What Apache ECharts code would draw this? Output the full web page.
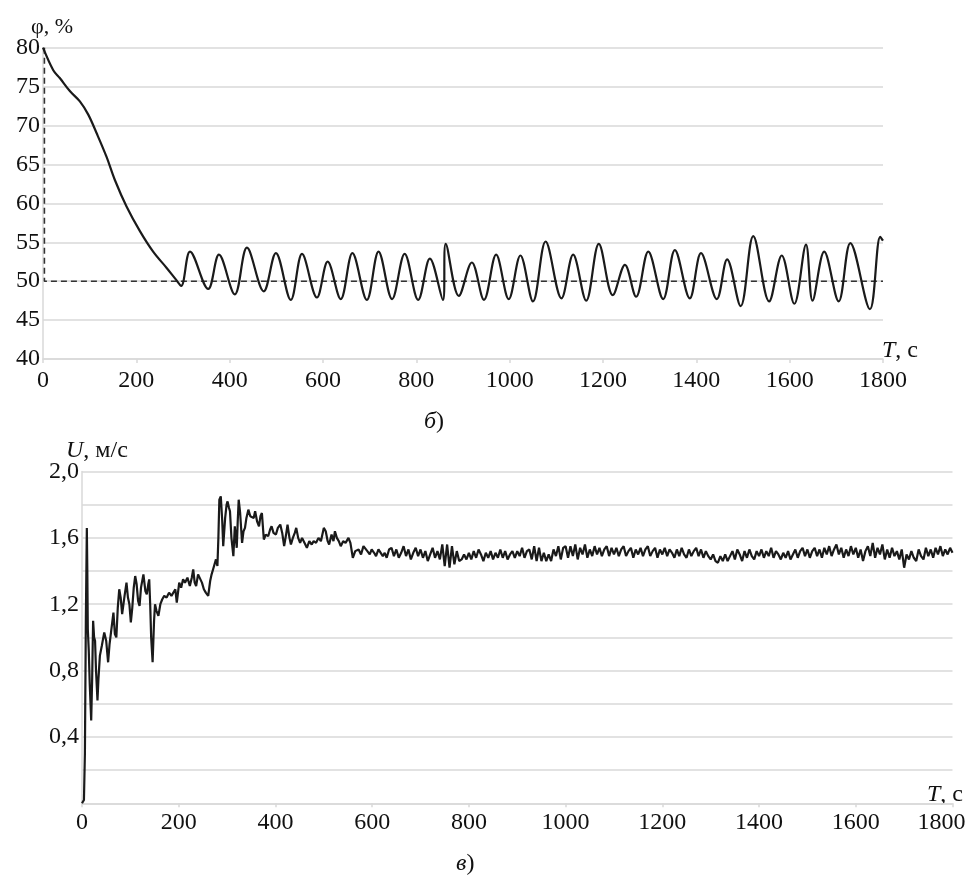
<!DOCTYPE html>
<html>
<head>
<meta charset="utf-8">
<script src="https://cdn.jsdelivr.net/npm/echarts@6/dist/echarts.min.js"></script>
<style>
html,body{margin:0;padding:0;background:#fff;}
#chart{width:968px;height:876px;}
</style>
</head>
<body>
<div id="chart"></div>
<script>
// ---------- Top chart (φ, %) ----------
const phiTime = [0,22,36,58,79,97,115,136,154,179,208,236,265,285,296,
  315,354,377,411,437,473,499,531,555,587,610,638,663,694,719,748,775,804,829,857,863,891,
  919,945,971,998,1023,1050,1077,1111,1136,1164,1191,1221,1247,1271,1297,1329,1354,1386,
  1410,1444,1466,1495,1522,1556,1583,1610,1635,1649,1674,1705,1730,1772,1794,1800];
const phiValue = [80,77.1,76.1,74.4,73.1,71.4,69.0,66.0,63.0,59.6,56.4,53.8,51.7,50.2,49.4,
  53.8,49.0,53.4,48.3,54.3,48.7,53.6,47.6,53.5,47.9,52.5,47.7,53.6,47.6,53.8,47.7,53.5,47.6,52.9,47.6,54.8,48.1,
  52.4,47.6,53.4,47.7,53.3,47.4,55.1,47.8,53.4,47.5,54.8,48.2,52.1,48.0,53.8,47.7,54.0,47.8,
  53.6,47.7,52.8,46.8,55.8,47.4,53.3,47.1,54.7,47.5,53.8,47.4,54.9,46.4,55.7,55.2];
// setpoint guide (dashed)
const guideTime = [3,3,1800];
const guideValue = [80,50,50];
const phiTicks = {min:40, max:80, step:5};
const timeTicks = {min:0, max:1800, step:200};

// ---------- Bottom chart (U, м/с) ----------
const uTimeEarly = [0,4,6,8,10,11,12,14,16,19,21,23,25,27,29,32,34,37,41,46,50,54,57,60,65,68,71,74,77,80,83,88,92,95,98,101,104,107,110,113,116,119,122,127,131,134,137,139,141,143,146,149,151,154,158,162,166,170,175,180,185,189,193,196,201,205,209,213,218,223,227,230,233,236,240,244,248,252,256,261,265,268,272,277,280,282,284,287,290,292,296,299,301,304,306,309,313,316,318,320,322,324,327,331,334,337,340,344,348,351,355,358,362,366,369,372,376,380,385,389,392,396,401,405,410,414,418,422,425,429,432,436,440,443,447,451,455,460,465,470,475,479,484,489,494,500,504,508,511,516,520,523,527,531,535,540,545,551,555,560,565,569,572,577,582,586,590,595,599,604,608,613,617,622,626,630,635];
const uValueEarly = [0,0.02,0.30,1.12,1.66,1.40,1.05,0.92,0.72,0.50,0.75,1.10,1.00,0.98,0.80,0.62,0.75,0.89,0.95,1.03,0.98,0.85,0.96,0.97,1.15,1.02,1.00,1.18,1.29,1.24,1.14,1.25,1.33,1.24,1.20,1.09,1.18,1.30,1.37,1.32,1.22,1.19,1.30,1.38,1.28,1.26,1.32,1.35,1.20,1.00,0.85,1.10,1.20,1.16,1.13,1.20,1.23,1.25,1.24,1.27,1.25,1.26,1.29,1.21,1.33,1.30,1.35,1.33,1.36,1.31,1.36,1.41,1.33,1.31,1.38,1.37,1.33,1.29,1.27,1.25,1.34,1.38,1.42,1.47,1.43,1.60,1.83,1.85,1.70,1.55,1.72,1.80,1.82,1.78,1.76,1.60,1.49,1.67,1.60,1.54,1.70,1.83,1.75,1.57,1.64,1.66,1.72,1.77,1.73,1.74,1.72,1.76,1.70,1.67,1.73,1.75,1.59,1.62,1.61,1.65,1.67,1.63,1.62,1.66,1.68,1.63,1.55,1.62,1.68,1.60,1.56,1.60,1.63,1.66,1.60,1.57,1.60,1.57,1.54,1.58,1.56,1.58,1.57,1.60,1.58,1.66,1.64,1.58,1.56,1.62,1.58,1.64,1.60,1.58,1.55,1.58,1.57,1.60,1.57,1.48,1.52,1.53,1.53,1.50,1.55,1.56,1.52,1.50,1.53,1.51,1.49,1.53,1.52,1.49,1.51,1.48,1.53];
const uTailStart = 640;
const uTailStep = 5;
const uTailValues = [
  1.54,1.49,1.53,1.48,1.51,1.55,1.49,1.53,1.47,1.51,1.54,1.49,
  1.53,1.48,1.52,1.46,1.50,1.54,1.48,1.52,
  1.47,1.56,1.43,1.56,1.42,1.55,1.44,1.52,
  1.46,1.47,1.50,1.47,
  1.51,1.47,1.52,1.48,1.53,1.50,1.46,1.51,1.48,1.52,1.47,1.51,1.48,1.53,1.48,1.52,1.47,1.50,1.52,1.48,
  1.52,1.49,1.54,1.48,1.52,1.53,1.47,1.55,1.46,1.54,1.46,1.51,1.46,1.50,1.46,1.53,1.49,1.55,1.47,1.54,
  1.55,1.48,1.55,1.49,1.56,1.47,1.54,1.50,1.56,1.48,1.53,1.49,1.55,1.50,1.54,1.49,1.53,1.55,1.49,1.54,
  1.50,1.54,1.49,1.53,1.55,1.49,1.52,1.54,1.48,1.53,1.50,1.54,1.49,1.53,1.55,1.49,1.52,1.54,1.48,1.53,
  1.50,1.54,1.49,1.53,1.51,1.48,1.53,1.49,1.54,1.50,1.48,1.53,1.49,1.52,1.54,1.49,1.53,1.48,1.52,1.49,
  1.47,1.50,1.46,1.45,1.49,1.46,1.50,1.46,1.49,1.52,1.47,1.53,1.50,1.46,1.52,1.48,1.53,1.49,1.47,1.52,
  1.49,1.53,1.48,1.52,1.49,1.54,1.48,1.52,1.50,1.47,1.51,1.48,1.52,1.47,1.50,1.53,1.48,1.52,1.54,1.49,
  1.53,1.48,1.52,1.54,1.49,1.53,1.48,1.54,1.50,1.55,1.49,1.53,1.56,1.50,1.54,1.48,1.53,1.49,1.55,1.50,
  1.54,1.48,1.53,1.46,1.52,1.55,1.49,1.57,1.48,1.54,1.50,1.56,1.47,1.53,1.48,1.54,1.49,1.52,1.47,1.53,
  1.42,1.50,1.47,1.52,1.48,1.46,1.53,1.49,1.47,1.54,1.49,1.53,1.48,1.54,1.50,1.55,1.49,1.53,1.50,1.54,1.51];
const uTicks = {min:0, max:2, step:0.2, labelEvery:0.4};

// ---------- build ----------
const FONT = '"Liberation Serif","Times New Roman",serif';
const FS = 24;
const phiData = phiTime.map((t,i)=>[t,phiValue[i]]);
const guideData = guideTime.map((t,i)=>[t,guideValue[i]]);
const uData = uTimeEarly.map((t,i)=>[t,uValueEarly[i]])
  .concat(uTailValues.map((v,i)=>[uTailStart+uTailStep*i, v]));

const gridColor = '#d9d9d9';
function xAxisCfg(gridIndex, margin, lastPad){
  return {
    type:'value', gridIndex, min:timeTicks.min, max:timeTicks.max, interval:timeTicks.step,
    axisLine:{show:true, lineStyle:{color:gridColor, width:1.5}},
    axisTick:{show:true, length:4, lineStyle:{color:gridColor, width:1.5}},
    splitLine:{show:false},
    axisLabel:{show:true, showMinLabel:true, showMaxLabel:true, hideOverlap:false,
      margin, fontFamily:FONT, fontSize:FS, color:'#111',
      formatter: v => v===timeTicks.max && lastPad ? '{p|'+v+'}' : String(v),
      rich:{p:{fontFamily:FONT, fontSize:FS, color:'#111', padding:[0,lastPad,0,0]}}}
  };
}
const rich = {i:{fontStyle:'italic', fontFamily:FONT, fontSize:FS}};

const option = {
  animation:false,
  backgroundColor:'#fff',
  grid:[
    {left:43, top:47.7, width:840, height:311.3, containLabel:false, outerBoundsMode:'none'},
    {left:82, top:471.5, width:870.5, height:331.8, containLabel:false, outerBoundsMode:'none'}
  ],
  xAxis:[ xAxisCfg(0, 10, 0), xAxisCfg(1, 7, 22) ],
  yAxis:[
    {type:'value', gridIndex:0, min:phiTicks.min, max:phiTicks.max, interval:phiTicks.step,
     axisLine:{show:true, lineStyle:{color:gridColor, width:1.5}},
     axisTick:{show:false},
     splitLine:{show:true, lineStyle:{color:gridColor, width:1.5}},
     axisLabel:{showMinLabel:true, showMaxLabel:true, margin:3, fontFamily:FONT, fontSize:FS, color:'#111'}},
    {type:'value', gridIndex:1, min:uTicks.min, max:uTicks.max, interval:uTicks.step,
     axisLine:{show:true, lineStyle:{color:gridColor, width:1.5}},
     axisTick:{show:false},
     splitLine:{show:true, lineStyle:{color:gridColor, width:1.5}},
     axisLabel:{showMinLabel:true, showMaxLabel:true, margin:3, fontFamily:FONT, fontSize:FS, color:'#111',
       formatter: v => {
         const k = Math.round(v*10);
         return (k>0 && k % Math.round(uTicks.labelEvery*10) === 0) ? v.toFixed(1).replace('.',',') : '';
       }}}
  ],
  series:[
    {type:'line', xAxisIndex:0, yAxisIndex:0, data:guideData, showSymbol:false, silent:true,
     lineStyle:{color:'#333', width:1.6, type:[6,4]}},
    {type:'line', xAxisIndex:0, yAxisIndex:0, data:phiData, showSymbol:false, smooth:0.35,
     lineStyle:{color:'#1a1a1a', width:2.2}},
    {type:'line', xAxisIndex:1, yAxisIndex:1, data:uData, showSymbol:false, smooth:false,
     lineStyle:{color:'#1a1a1a', width:2.2}}
  ],
  graphic:[
    {type:'text', left:31, top:16, style:{text:'φ, %', font:'22px '+FONT, fill:'#111'}},
    {type:'text', left:882, top:339, style:{text:'{i|T}, с', font:FS+'px '+FONT, fill:'#111', rich}},
    {type:'text', left:424, top:410, style:{text:'{i|б})', font:FS+'px '+FONT, fill:'#111', rich}},
    {type:'text', left:66, top:439, style:{text:'{i|U}, м/с', font:FS+'px '+FONT, fill:'#111', rich}},
    {type:'text', left:927, top:783, style:{text:'{i|T}, с', font:FS+'px '+FONT, fill:'#111', rich}},
    {type:'text', left:456, top:852, style:{text:'{i|в})', font:FS+'px '+FONT, fill:'#111', rich}}
  ]
};
const chart = echarts.init(document.getElementById('chart'), null, {renderer:'canvas'});
chart.setOption(option);
</script>
</body>
</html>
